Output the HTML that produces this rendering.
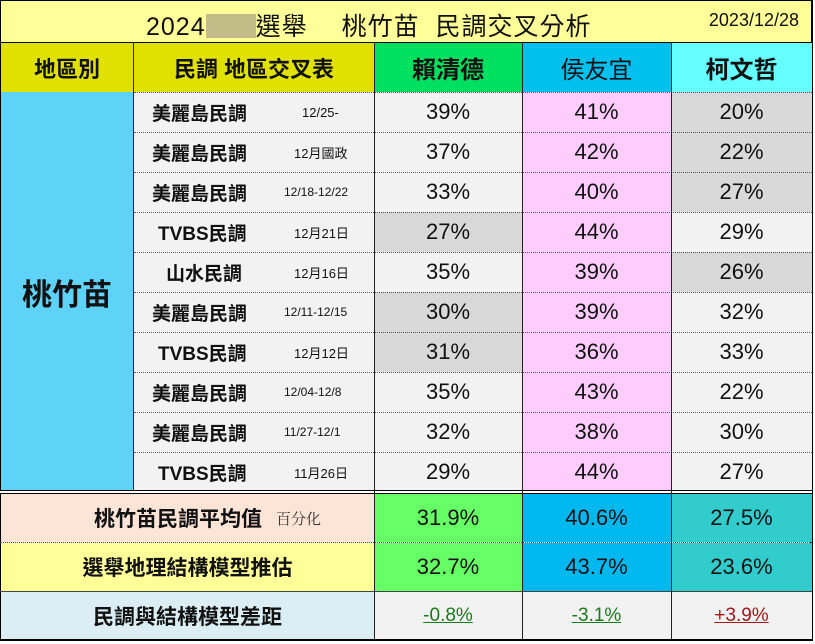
<!DOCTYPE html>
<html><head><meta charset="utf-8"><style>
body{margin:0;width:815px;height:644px;background:#fff;overflow:hidden;font-family:"Liberation Sans","Noto Sans CJK TC",sans-serif;}
.c{position:absolute;box-sizing:border-box;display:flex;align-items:center;justify-content:center;color:#111;}
.hl{position:absolute;border-top:1px dotted #555;height:0;}
.vl{position:absolute;background:#222;width:1px;}
.n{font-size:22px;}
</style></head><body>
<div style="position:absolute;left:0;top:0;width:813px;height:641px;border:1px solid #000;border-right:3px solid #000;border-bottom:3px solid #000;box-sizing:border-box;"></div>
<div class="c" style="left:1px;top:1px;width:810px;height:41px;background:#ffff99;font-size:25px;">
<span style="position:absolute;left:145px;top:6px;letter-spacing:1px;">2024<span style="display:inline-block;width:50px;height:24px;background:#a8a080;vertical-align:-3px;opacity:.7"></span>選舉　 桃竹苗&nbsp; 民調交叉分析</span>
<span style="position:absolute;right:12px;top:9px;font-size:18px;">2023/12/28</span></div>
<div style="position:absolute;left:0;top:42px;width:812px;height:1px;background:#000"></div>
<div class="c" style="left:1px;top:43px;width:132px;height:49px;background:#e1e100;font-size:22px;font-weight:bold;">地區別</div>
<div class="c" style="left:134px;top:43px;width:240px;height:49px;background:#e1e100;font-size:22px;font-weight:bold;">民調 地區交叉表</div>
<div class="c" style="left:374px;top:43px;width:148px;height:49px;background:#00e060;font-size:24px;font-weight:bold;">賴清德</div>
<div class="c" style="left:522px;top:43px;width:149px;height:49px;background:#00c0f0;font-size:24px;">侯友宜</div>
<div class="c" style="left:671px;top:43px;width:141px;height:49px;background:#66ffff;font-size:24px;font-weight:bold;">柯文哲</div>
<div class="c" style="left:1px;top:92px;width:132px;height:400px;background:#5fd3f7;font-size:30px;font-weight:bold;">桃竹苗</div>
<div id="rows"></div>
<div style="position:absolute;left:0;top:490px;width:812px;height:4px;border-top:1px solid #000;border-bottom:1px solid #000;box-sizing:border-box;background:#fff"></div>
<div class="c" style="left:1px;top:494px;width:373px;height:48px;background:#fce4d6;font-size:21px;font-weight:bold;"><span style="margin-left:40px">桃竹苗民調平均值</span><span style="font-size:15px;font-family:'Noto Serif CJK SC',serif;font-weight:normal;margin-left:14px;color:#333">百分化</span></div>
<div class="c n" style="left:374px;top:494px;width:148px;height:48px;background:#66ff66;">31.9%</div>
<div class="c n" style="left:522px;top:494px;width:149px;height:48px;background:#00b8f0;">40.6%</div>
<div class="c n" style="left:671px;top:494px;width:141px;height:48px;background:#33cccc;">27.5%</div>
<div class="hl" style="left:0;top:542px;width:812px"></div>
<div class="c" style="left:1px;top:543px;width:373px;height:48px;background:#ffff99;font-size:21px;font-weight:bold;">選舉地理結構模型推估</div>
<div class="c n" style="left:374px;top:543px;width:148px;height:48px;background:#66ff66;">32.7%</div>
<div class="c n" style="left:522px;top:543px;width:149px;height:48px;background:#00b8f0;">43.7%</div>
<div class="c n" style="left:671px;top:543px;width:141px;height:48px;background:#33cccc;">23.6%</div>
<div style="position:absolute;left:0;top:591px;width:812px;height:1px;background:#444"></div>
<div class="c" style="left:1px;top:592px;width:373px;height:47px;background:#daeef3;font-size:21px;font-weight:bold;">民調與結構模型差距</div>
<div class="c" style="left:374px;top:592px;width:438px;height:47px;background:#f2f2f2;"></div>
<div class="c" style="left:374px;top:592px;width:148px;height:47px;font-size:19px;color:#1a7a1a;text-decoration:underline;">-0.8%</div>
<div class="c" style="left:522px;top:592px;width:149px;height:47px;font-size:19px;color:#1a7a1a;text-decoration:underline;">-3.1%</div>
<div class="c" style="left:671px;top:592px;width:141px;height:47px;font-size:19px;color:#a01818;text-decoration:underline;">+3.9%</div>
<div class="vl" style="left:133px;top:42px;height:449px"></div>
<div class="vl" style="left:374px;top:42px;height:597px"></div>
<div class="vl" style="left:522px;top:42px;height:597px"></div>
<div class="vl" style="left:671px;top:42px;height:597px"></div>
<script>
var d=[["美麗島民調","12/25-","39%","41%","20%",0,1],["美麗島民調","12月國政","37%","42%","22%",0,1],["美麗島民調","12/18-12/22","33%","40%","27%",0,1],["TVBS民調","12月21日","27%","44%","29%",1,0],["山水民調","12月16日","35%","39%","26%",0,1],["美麗島民調","12/11-12/15","30%","39%","32%",1,0],["TVBS民調","12月12日","31%","36%","33%",1,0],["美麗島民調","12/04-12/8","35%","43%","22%",0,0],["美麗島民調","11/27-12/1","32%","38%","30%",0,0],["TVBS民調","11月26日","29%","44%","27%",0,0]];
var h="";
d.forEach(function(r,i){var t=92+i*40;
h+='<div class="c" style="left:134px;top:'+t+'px;width:240px;height:40px;background:#f2f2f2;justify-content:flex-start"><span style="position:absolute;left:'+(r[0]=="山水民調"?32:(r[0][0]=="T"?24:18))+'px;font-size:19px;font-weight:bold">'+r[0]+'</span><span style="position:absolute;left:'+(r[1].indexOf("-")>0&&r[1].length>6?150:(r[1]=="12/25-"?168:160))+'px;font-size:'+(r[1].length>6?12:13)+'px">'+r[1]+'</span></div>';
h+='<div class="c n" style="left:374px;top:'+t+'px;width:148px;height:40px;background:'+(r[5]?'#d9d9d9':'#f2f2f2')+'">'+r[2]+'</div>';
h+='<div class="c n" style="left:522px;top:'+t+'px;width:149px;height:40px;background:#ffccff">'+r[3]+'</div>';
h+='<div class="c n" style="left:671px;top:'+t+'px;width:141px;height:40px;background:'+(r[6]?'#d9d9d9':'#f2f2f2')+'">'+r[4]+'</div>';
h+='<div class="hl" style="left:134px;top:'+t+'px;width:678px"></div>';
});
document.getElementById("rows").innerHTML=h;
</script>
</body></html>
